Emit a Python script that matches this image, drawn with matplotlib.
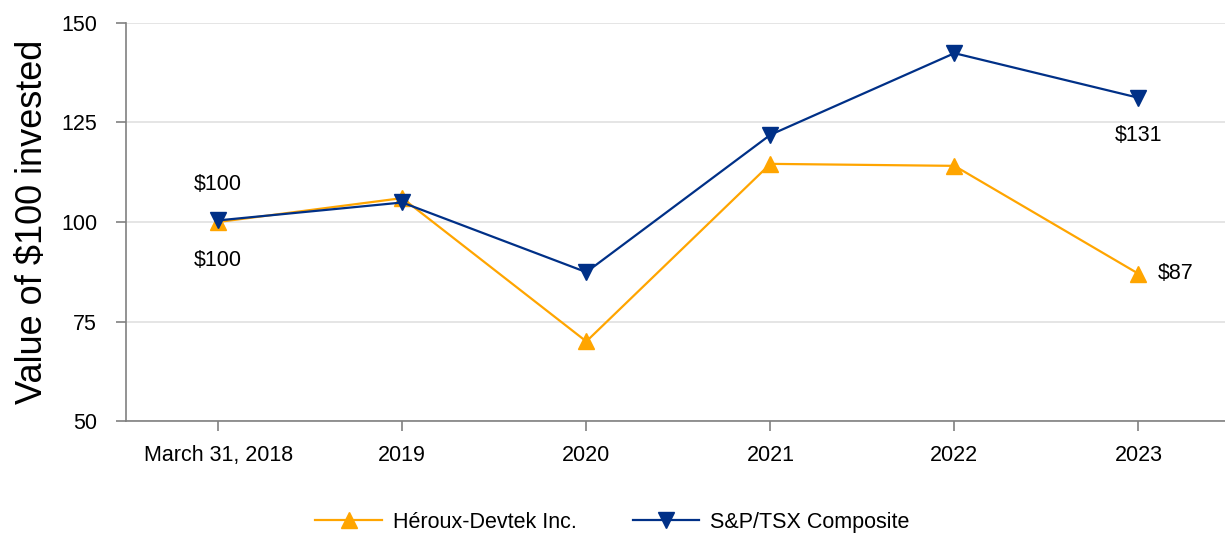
import matplotlib.pyplot as plt

plt.rcParams["font.family"] = ["Liberation Sans Narrow", "Liberation Sans", "DejaVu Sans"]

years = ["March 31, 2018", "2019", "2020", "2021", "2022", "2023"]
heroux = [100, 106, 70, 114.6, 114.1, 87]
tsx = [100.4, 104.9, 87.4, 121.9, 142.4, 131.2]

orange = "#FFA500"
navy = "#003087"

fig = plt.figure(figsize=(12.25, 5.33), dpi=100)
ax = fig.add_axes([0.103, 0.21, 0.897, 0.747])

x = range(len(years))
ax.plot(x, heroux, color=orange, marker="^", markersize=11, linewidth=1.6,
        label="Héroux-Devtek Inc.")
ax.plot(x, tsx, color=navy, marker="v", markersize=11, linewidth=1.6,
        label="S&P/TSX Composite")

# value labels
fs = 15.5
ax.annotate("$100", (0, tsx[0]), xytext=(0, 26), textcoords="offset points",
            ha="center", va="center", fontsize=fs)
ax.annotate("$100", (0, heroux[0]), xytext=(0, -28), textcoords="offset points",
            ha="center", va="center", fontsize=fs)
ax.annotate("$131", (5, tsx[5]), xytext=(0, -27), textcoords="offset points",
            ha="center", va="center", fontsize=fs)
ax.annotate("$87", (5, heroux[5]), xytext=(27, 0), textcoords="offset points",
            ha="center", va="center", fontsize=fs)

ax.set_xlim(-0.5, 5.47)
ax.set_ylim(50, 150)
ax.set_yticks([50, 75, 100, 125, 150])
ax.set_xticks(list(x))
ax.set_xticklabels(years)
ax.tick_params(axis="both", labelsize=fs, color="#808080", length=7, width=1.2)
ax.tick_params(axis="y", pad=14)
ax.tick_params(axis="x", pad=10)
ax.grid(axis="y", color="#e0e0e0", linewidth=1.2)
ax.set_axisbelow(True)

for side in ["top", "right"]:
    ax.spines[side].set_visible(False)
for side in ["left", "bottom"]:
    ax.spines[side].set_color("#808080")
    ax.spines[side].set_linewidth(1.2)

ax.set_ylabel("Value of $100 invested", fontsize=26, labelpad=8)

fig.legend(loc="lower center", bbox_to_anchor=(0.5, -0.036), ncol=2, frameon=False,
           fontsize=fs, handlelength=3.1, handletextpad=0.5, columnspacing=2.6)

fig.savefig("out.png", dpi=100)
